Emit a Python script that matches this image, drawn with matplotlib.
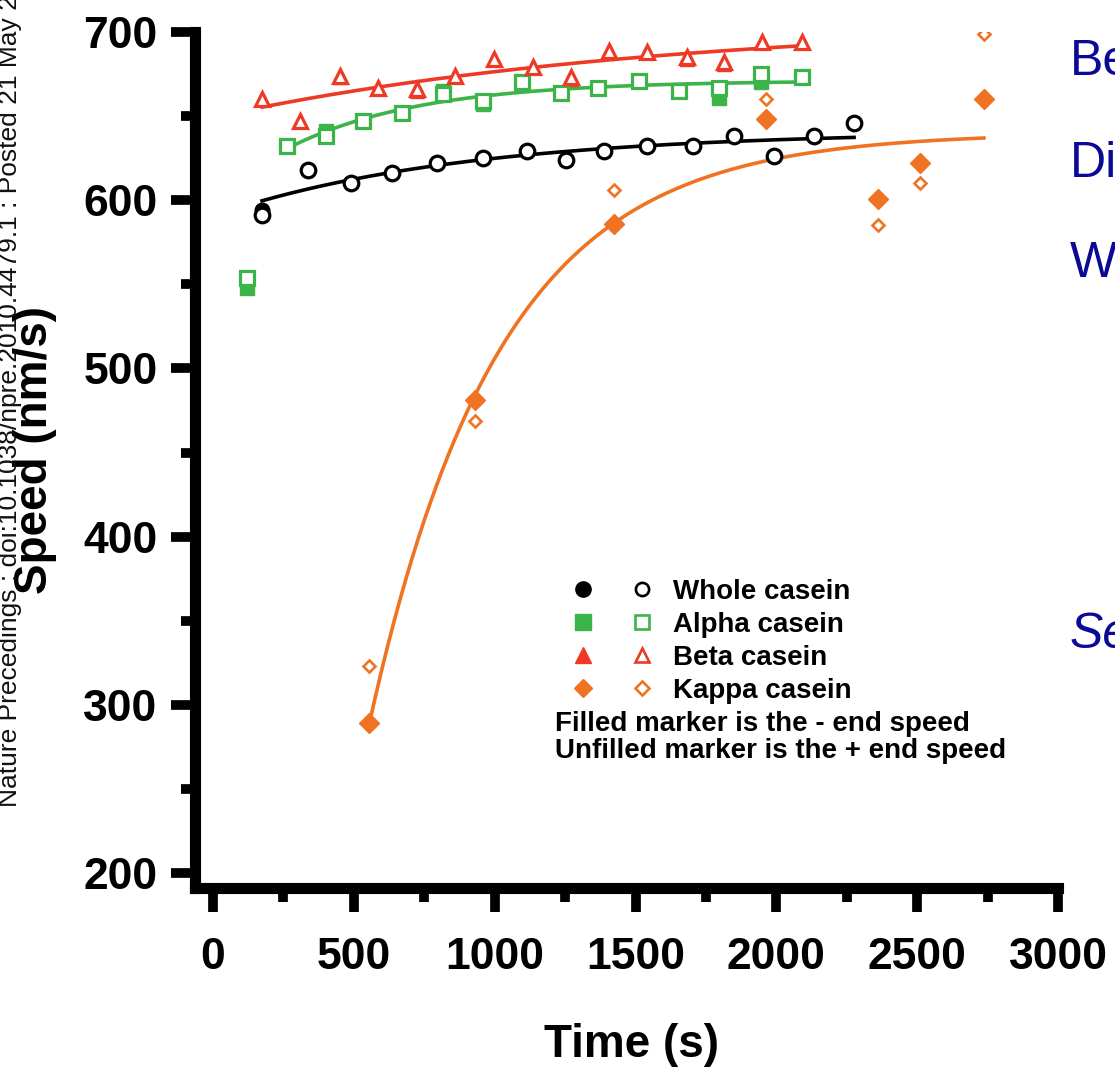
import numpy as np
import matplotlib
matplotlib.use("Agg")
import matplotlib.pyplot as plt
from matplotlib.lines import Line2D
from matplotlib.legend_handler import HandlerTuple
from matplotlib.ticker import MultipleLocator

plt.rcParams['font.family'] = ['Liberation Sans', 'DejaVu Sans']

# time (s) and speed (nm/s); filled = - end, open = + end
whole_t = [174, 337, 490, 635, 795, 958, 1115, 1253, 1388, 1541, 1704, 1850, 1992, 2134, 2276]
whole_open = [591, 618, 610, 616, 622, 625, 629, 624, 629, 632, 632, 638, 626, 638, 646]
whole_filled = [594, 618, 610, 616, 622, 625, 629, 624, 629, 632, 632, 638, 626, 638, 646]

alpha_t = [121, 263, 401, 533, 671, 817, 959, 1097, 1235, 1367, 1512, 1654, 1796, 1945, 2091]
alpha_open = [554, 632, 638, 647, 652, 663, 659, 670, 664, 667, 671, 665, 667, 675, 673]
alpha_filled = [548, 632, 641, 647, 652, 665, 657, 670, 664, 667, 671, 665, 661, 670, 673]

beta_t = [174, 309, 451, 586, 724, 859, 998, 1136, 1271, 1406, 1541, 1683, 1814, 1949, 2091]
beta_open = [660, 647, 674, 667, 666, 674, 684, 679, 673, 689, 688, 685, 682, 694, 694]
beta_filled = [660, 647, 673, 667, 665, 674, 684, 679, 672, 689, 688, 684, 681, 694, 694]

kappa_t = [554, 930, 1424, 1963, 2361, 2510, 2737]
kappa_filled = [289, 481, 586, 648, 601, 622, 660]
kappa_open = [323, 469, 606, 660, 585, 610, 699]

black = '#000000'
green = '#3bb44a'
red = '#ee3a24'
orange = '#f07323'


def assoc_fit(t, y):
    # one-phase association y = P + B*exp(-k t), k by scan, P and B by least squares
    t = np.asarray(t, float)
    y = np.asarray(y, float)
    best = None
    for k in np.geomspace(1e-5, 5e-2, 3000):
        X = np.column_stack([np.ones_like(t), np.exp(-k * t)])
        coef = np.linalg.lstsq(X, y, rcond=None)[0]
        r = np.sum((X @ coef - y) ** 2)
        if best is None or r < best[0]:
            best = (r, k, coef)
    _, k, coef = best
    tt = np.linspace(t.min(), t.max(), 300)
    return tt, coef[0] + coef[1] * np.exp(-k * tt)


fig = plt.figure(figsize=(11.15, 10.74), dpi=100)
W, H = 1115, 1074
ax = fig.add_axes([195 / W, (H - 888) / H, (1058 - 195) / W, (888 - 32) / H])

# fitted curves
tt, yy = assoc_fit(whole_t + whole_t, whole_open + whole_filled)
ax.plot(tt, yy, color=black, lw=2.6, zorder=2)
tt, yy = assoc_fit(alpha_t[1:] + alpha_t[1:], alpha_open[1:] + alpha_filled[1:])
ax.plot(tt, yy, color=green, lw=2.6, zorder=2)
tt, yy = assoc_fit(beta_t + beta_t, beta_open + beta_filled)
ax.plot(tt, yy, color=red, lw=2.6, zorder=2)
tt, yy = assoc_fit(kappa_t, kappa_filled)
ax.plot(tt, yy, color=orange, lw=2.6, zorder=2)

# filled markers underneath, open markers on top
ax.plot(whole_t, whole_filled, 'o', ms=10.5, color=black, ls='none', zorder=3)
ax.plot(alpha_t, alpha_filled, 's', ms=9.5, color=green, ls='none', zorder=3)
ax.plot(beta_t, beta_filled, '^', ms=10.5, color=red, ls='none', zorder=3)
ax.plot(kappa_t, kappa_filled, 'D', ms=10, color=orange, ls='none', zorder=3)

ax.plot(whole_t, whole_open, 'o', ms=10.5, mfc='white', mec=black, mew=2.3, ls='none', zorder=4)
ax.plot(alpha_t, alpha_open, 's', ms=9.5, mfc='white', mec=green, mew=2.3, ls='none', zorder=4)
ax.plot(beta_t, beta_open, '^', ms=10.5, mfc='white', mec=red, mew=2.3, ls='none', zorder=4)
ax.plot(kappa_t, kappa_open, 'D', ms=6.4, mfc='white', mec=orange, mew=1.9, ls='none', zorder=4)

ax.set_xlim(-64, 3000)
ax.set_ylim(191.1, 700)
for s in ['top', 'right']:
    ax.spines[s].set_visible(False)
for s in ['left', 'bottom']:
    ax.spines[s].set_linewidth(8)
    ax.spines[s].set_capstyle('projecting')

ax.xaxis.set_minor_locator(MultipleLocator(250))
ax.yaxis.set_minor_locator(MultipleLocator(50))
ax.set_xticks(np.arange(0, 3001, 500))
ax.set_yticks(np.arange(200, 701, 100))
ax.tick_params(which='major', length=17, width=7, pad=10, labelsize=32)
ax.tick_params(which='minor', length=10, width=7)
ax.tick_params(axis='x', which='major', pad=18)
for lab in ax.get_xticklabels() + ax.get_yticklabels():
    lab.set_fontweight('bold')

fig.text(632 / W, 1 - 1045 / H, 'Time (s)', ha='center', va='center',
         fontsize=33, fontweight='bold')
fig.text(35 / W, 1 - 450 / H, 'Speed (nm/s)', ha='center', va='center',
         rotation=90, fontsize=33, fontweight='bold')

# repository stamp along the left edge
fig.text(17 / W, 1 - 807 / H,
         'Nature Precedings : doi:10.1038/npre.2010.4479.1 : Posted 21 May 2010',
         rotation=90, rotation_mode='anchor', ha='left', va='baseline',
         fontsize=19, color='#111111')

# slide text on the right
for txt, yb, st in [('Be', 75, 'normal'), ('Di', 177, 'normal'),
                    ('We', 277, 'normal'), ('Se', 648, 'italic')]:
    fig.text(1070 / W, 1 - yb / H, txt, ha='left', va='baseline',
             fontsize=36, color='#0a0a96', style=st)

# legend: filled / open marker pairs
names = ['Whole casein', 'Alpha casein', 'Beta casein', 'Kappa casein']
marks = ['o', 's', '^', 'D']
cols = [black, green, red, orange]
handles = []
for m, c in zip(marks, cols):
    f = Line2D([], [], marker=m, ls='none', color=c, ms=11 if m != 'D' else 9)
    o = Line2D([], [], marker=m, ls='none', mfc='white', mec=c, mew=1.9,
               ms=9.5 if m != 'D' else 7)
    handles.append((f, o))
leg = fig.legend(handles, names, handler_map={tuple: HandlerTuple(ndivide=None, pad=0)},
                 loc='upper left', bbox_to_anchor=(553.5 / W, 1 - 579 / H),
                 bbox_transform=fig.transFigure, frameon=False, borderpad=0,
                 borderaxespad=0, handlelength=4.25, handletextpad=0.05,
                 labelspacing=0.25, prop={'size': 20, 'weight': 'bold'})

fig.text(555 / W, 1 - 724 / H, 'Filled marker is the - end speed', ha='left',
         va='center', fontsize=20, fontweight='bold')
fig.text(555 / W, 1 - 751 / H, 'Unfilled marker is the + end speed', ha='left',
         va='center', fontsize=20, fontweight='bold')

fig.savefig('out.png', dpi=100)
